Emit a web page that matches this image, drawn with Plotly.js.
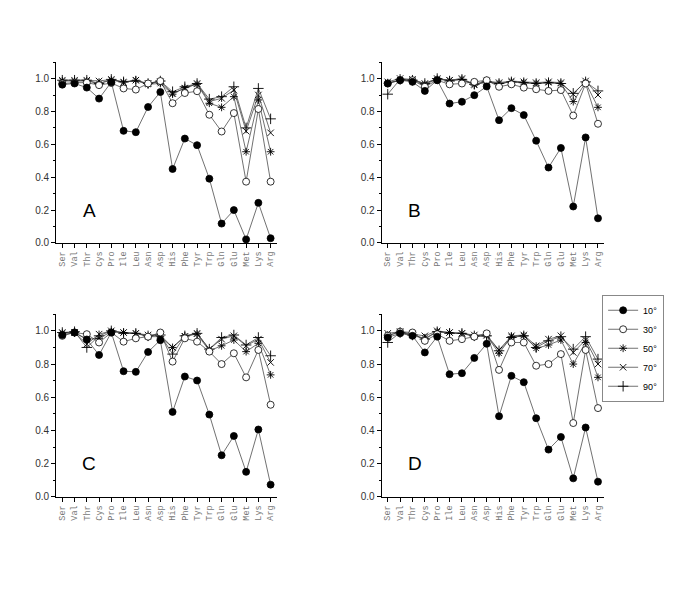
<!DOCTYPE html>
<html>
<head>
<meta charset="utf-8">
<script src="https://cdn.plot.ly/plotly-3.0.1.min.js"></script>
<style>
  html, body { margin: 0; padding: 0; background: #fff; }
  #chart { width: 685px; height: 609px; }
</style>
</head>
<body>
<div id="chart"></div>
<script>
// amino acids on the x axis
const residues = ['Ser', 'Val', 'Thr', 'Cys', 'Pro', 'Ile', 'Leu', 'Asn', 'Asp',
                  'His', 'Phe', 'Tyr', 'Trp', 'Gln', 'Glu', 'Met', 'Lys', 'Arg'];
const angles = ['10°', '30°', '50°', '70°', '90°'];

// panel A
const a10 = [0.963, 0.970, 0.945, 0.878, 0.978, 0.682, 0.674, 0.827, 0.918, 0.450, 0.635, 0.595, 0.391, 0.118, 0.200, 0.022, 0.244, 0.029];
const a30 = [0.970, 0.975, 0.975, 0.960, 0.973, 0.940, 0.933, 0.970, 0.985, 0.850, 0.912, 0.923, 0.780, 0.678, 0.790, 0.373, 0.815, 0.373];
const a50 = [0.985, 0.985, 0.985, 0.970, 0.990, 0.980, 0.990, 0.965, 0.970, 0.905, 0.945, 0.965, 0.850, 0.825, 0.890, 0.555, 0.870, 0.555];
const a70 = [0.990, 0.990, 0.990, 0.985, 0.995, 0.975, 0.990, 0.970, 0.980, 0.910, 0.940, 0.970, 0.860, 0.880, 0.930, 0.680, 0.900, 0.670];
const a90 = [0.990, 0.990, 0.990, 0.970, 0.995, 0.980, 0.985, 0.970, 0.985, 0.920, 0.950, 0.970, 0.875, 0.890, 0.950, 0.700, 0.940, 0.755];

// panel B
const b10 = [0.970, 0.990, 0.980, 0.925, 0.990, 0.848, 0.859, 0.899, 0.952, 0.747, 0.820, 0.778, 0.622, 0.459, 0.578, 0.222, 0.642, 0.150];
const b30 = [0.970, 0.990, 0.990, 0.950, 0.990, 0.965, 0.970, 0.980, 0.990, 0.950, 0.965, 0.945, 0.935, 0.925, 0.930, 0.775, 0.970, 0.725];
const b50 = [0.975, 0.990, 0.990, 0.965, 0.995, 0.990, 0.995, 0.960, 0.980, 0.970, 0.980, 0.975, 0.970, 0.975, 0.970, 0.860, 0.975, 0.825];
const b70 = [0.980, 1.000, 0.995, 0.970, 1.000, 0.990, 1.000, 0.965, 0.985, 0.975, 0.985, 0.980, 0.975, 0.980, 0.975, 0.905, 0.985, 0.900];
const b90 = [0.905, 0.995, 0.990, 0.970, 1.000, 0.985, 0.995, 0.965, 0.980, 0.970, 0.980, 0.975, 0.970, 0.975, 0.970, 0.910, 0.980, 0.925];

// panel C
const c10 = [0.975, 0.990, 0.948, 0.855, 0.990, 0.757, 0.753, 0.873, 0.944, 0.512, 0.725, 0.701, 0.496, 0.251, 0.367, 0.151, 0.406, 0.074];
const c30 = [0.970, 0.990, 0.980, 0.930, 0.990, 0.935, 0.955, 0.965, 0.990, 0.815, 0.955, 0.935, 0.875, 0.800, 0.865, 0.720, 0.885, 0.555];
const c50 = [0.985, 0.990, 0.950, 0.955, 0.995, 0.990, 0.985, 0.965, 0.965, 0.900, 0.970, 0.980, 0.880, 0.910, 0.945, 0.875, 0.925, 0.735];
const c70 = [0.990, 0.990, 0.920, 0.980, 1.000, 0.990, 0.985, 0.975, 0.975, 0.900, 0.965, 0.985, 0.890, 0.950, 0.970, 0.910, 0.950, 0.810];
const c90 = [0.990, 0.995, 0.900, 0.970, 1.000, 0.985, 0.985, 0.970, 0.975, 0.860, 0.970, 0.985, 0.890, 0.960, 0.975, 0.915, 0.960, 0.850];

// panel D
const d10 = [0.960, 0.985, 0.970, 0.870, 0.965, 0.739, 0.745, 0.837, 0.922, 0.486, 0.729, 0.691, 0.474, 0.285, 0.361, 0.112, 0.418, 0.092];
const d30 = [0.970, 0.995, 0.990, 0.940, 0.980, 0.940, 0.950, 0.965, 0.985, 0.765, 0.930, 0.930, 0.790, 0.800, 0.860, 0.445, 0.885, 0.535];
const d50 = [0.975, 0.990, 0.975, 0.955, 0.995, 0.990, 0.985, 0.965, 0.970, 0.865, 0.965, 0.970, 0.895, 0.915, 0.945, 0.800, 0.930, 0.720];
const d70 = [0.985, 0.995, 0.980, 0.970, 1.000, 0.990, 0.985, 0.975, 0.975, 0.885, 0.970, 0.975, 0.910, 0.950, 0.970, 0.870, 0.945, 0.800];
const d90 = [0.930, 0.990, 0.975, 0.950, 0.995, 0.985, 0.985, 0.970, 0.970, 0.880, 0.960, 0.970, 0.900, 0.940, 0.965, 0.890, 0.965, 0.830];

const panels = [
    { name: 'A', ax: '',  series: [a10, a30, a50, a70, a90] },
    { name: 'B', ax: '2', series: [b10, b30, b50, b70, b90] },
    { name: 'C', ax: '3', series: [c10, c30, c50, c70, c90] },
    { name: 'D', ax: '4', series: [d10, d30, d50, d70, d90] }
];

// marker look per angle
const markerStyles = [
    { symbol: 'circle', size: 7, color: '#000', line: { color: '#000', width: 0.8 } },
    { symbol: 'circle', size: 7, color: '#fff', line: { color: '#000', width: 0.8 } },
    { symbol: 'asterisk-open', size: 6.5, color: '#000', line: { color: '#000', width: 0.9 } },
    { symbol: 'x-thin-open', size: 6.5, color: '#000', line: { color: '#000', width: 0.9 } },
    { symbol: 'cross-thin-open', size: 7.5, color: '#000', line: { color: '#000', width: 0.9 } }
];

const traces = [];
panels.forEach((p, pi) => {
    // draw the top curves first so the filled dots sit on top
    for (let k = angles.length - 1; k >= 0; k--) {
        traces.push({
            x: residues,
            y: p.series[k],
            xaxis: 'x' + p.ax,
            yaxis: 'y' + p.ax,
            type: 'scatter',
            mode: 'lines+markers',
            name: angles[k],
            legendrank: k + 1,
            showlegend: pi === 3,
            line: { color: '#333', width: 0.7 },
            marker: markerStyles[k],
            cliponaxis: false
        });
    }
});

const xBase = {
    type: 'category',
    range: [-0.5, 17.5],
    showgrid: false,
    zeroline: false,
    showline: true,
    linecolor: '#000',
    linewidth: 1,
    ticks: 'outside',
    ticklen: 4,
    tickcolor: '#000',
    tickangle: -90,
    tickfont: { family: 'Liberation Mono, Courier New, monospace', size: 8.5, color: '#777' },
    fixedrange: true
};

const yBase = {
    range: [0, 1.1],
    tickvals: [0, 0.2, 0.4, 0.6, 0.8, 1.0],
    ticktext: ['0.0', '0.2', '0.4', '0.6', '0.8', '1.0'],
    showgrid: false,
    zeroline: false,
    showline: true,
    linecolor: '#000',
    linewidth: 1,
    ticks: 'outside',
    ticklen: 4,
    tickcolor: '#000',
    minor: { dtick: 0.1, ticks: 'outside', ticklen: 2, tickcolor: '#000' },
    tickfont: { family: 'Liberation Sans, Arial, sans-serif', size: 10, color: '#333' },
    fixedrange: true
};

const colLeft = [0.082, 0.404];
const colRight = [0.557, 0.882];
const rowTop = [0.601, 0.898];
const rowBottom = [0.184, 0.484];

const layout = {
    width: 685,
    height: 609,
    margin: { l: 0, r: 0, t: 0, b: 0 },
    paper_bgcolor: '#fff',
    plot_bgcolor: 'rgba(0,0,0,0)',
    showlegend: true,
    legend: {
        x: 0.879, xanchor: 'left',
        y: 0.516, yanchor: 'top',
        bgcolor: '#fff',
        bordercolor: '#888',
        borderwidth: 1,
        font: { family: 'Liberation Sans, Arial, sans-serif', size: 9, color: '#000' },
        tracegroupgap: 0,
        itemwidth: 30
    },
    xaxis:  { ...xBase, domain: colLeft,  anchor: 'y' },
    yaxis:  { ...yBase, domain: rowTop,   anchor: 'x' },
    xaxis2: { ...xBase, domain: colRight, anchor: 'y2' },
    yaxis2: { ...yBase, domain: rowTop,   anchor: 'x2' },
    xaxis3: { ...xBase, domain: colLeft,  anchor: 'y3' },
    yaxis3: { ...yBase, domain: rowBottom, anchor: 'x3' },
    xaxis4: { ...xBase, domain: colRight, anchor: 'y4' },
    yaxis4: { ...yBase, domain: rowBottom, anchor: 'x4' },
    annotations: panels.map(p => ({
        text: p.name,
        xref: 'x' + p.ax,
        yref: 'y' + p.ax,
        x: 2.2,
        y: 0.2,
        showarrow: false,
        font: { family: 'Liberation Sans, Arial, sans-serif', size: 19, color: '#000' }
    }))
};

Plotly.newPlot('chart', traces, layout, { displayModeBar: false, staticPlot: true });
</script>
</body>
</html>
